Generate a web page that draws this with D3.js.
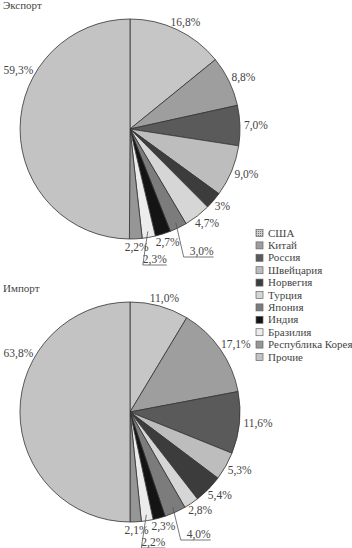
<!DOCTYPE html>
<html>
<head>
<meta charset="utf-8">
<script src="https://cdn.jsdelivr.net/npm/d3@7"></script>
<style>
  body { margin: 0; background: #fff; }
  svg { display: block; }
  text { font-family: "Liberation Serif", "DejaVu Serif", serif; fill: #444; }
</style>
</head>
<body>
<svg id="chart" width="352" height="548"></svg>
<script>
// data
var countries = ['США', 'Китай', 'Россия', 'Швейцария', 'Норвегия', 'Турция', 'Япония', 'Индия', 'Бразилия', 'Республика Корея', 'Прочие'];
var exportValues = [16.8, 8.8, 7.0, 9.0, 3, 4.7, 3.0, 2.7, 2.3, 2.2, 59.3];
var exportLabels = ['16,8%', '8,8%', '7,0%', '9,0%', '3%', '4,7%', '3,0%', '2,7%', '2,3%', '2,2%', '59,3%'];
var importValues = [11.0, 17.1, 11.6, 5.3, 5.4, 2.8, 4.0, 2.3, 2.2, 2.1, 63.8];
var importLabels = ['11,0%', '17,1%', '11,6%', '5,3%', '5,4%', '2,8%', '4,0%', '2,3%', '2,2%', '2,1%', '63,8%'];

var colors = ['#c6c6c6', '#9e9e9e', '#5a5a5a', '#bdbdbd', '#3c3c3c', '#d6d6d6', '#7c7c7c', '#141414', '#ececec', '#969696', '#c3c3c3'];

var svg = d3.select('#chart');
var R = 110;
var FontSize = 11.5;
// slices whose labels hang below the pie on a leader line
var leaders = {6: {dx: 8, dy: 18, side: 'right'}, 8: {dx: -5, dy: 26, side: 'left'}};
var othersAngle = 300 * Math.PI / 180;

function drawPie(title, values, labels, cx, cy, titleY) {
    svg.append('text')
        .attr('x', 3)
        .attr('y', titleY)
        .attr('font-size', 11)
        .text(title);

    var pie = d3.pie().sort(null).value(function(d) { return d; });
    var arcs = pie(values);
    var arc = d3.arc().innerRadius(0).outerRadius(R);

    var g = svg.append('g').attr('transform', 'translate(' + cx + ',' + cy + ')');
    g.selectAll('path')
        .data(arcs)
        .enter()
        .append('path')
        .attr('d', arc)
        .attr('fill', function(d, i) { return colors[i]; })
        .attr('stroke', '#333')
        .attr('stroke-width', 0.8);

    arcs.forEach(function(d, i) {
        var a = (d.startAngle + d.endAngle) / 2;
        if (i === values.length - 1) a = othersAngle;
        var s = Math.sin(a), c = Math.cos(a);
        var t = g.append('text')
            .attr('font-size', FontSize)
            .text(labels[i]);
        var w = t.node().getComputedTextLength(), h = 9;
        if (leaders[i]) {
            var L = leaders[i];
            var x0 = s * (R - 6), y0 = -c * (R - 6);
            var x1 = x0 + L.dx, y1 = R + L.dy;
            var ux = L.side === 'right' ? x1 + w + 6 : x1 + w;
            g.append('polyline')
                .attr('points', [[x0, y0], [x1, y1], [ux, y1]].map(function(p) { return p.join(','); }).join(' '))
                .attr('fill', 'none')
                .attr('stroke', '#555')
                .attr('stroke-width', 0.8);
            t.attr('x', L.side === 'right' ? x1 + 6 : x1)
                .attr('y', y1 - 2);
            return;
        }
        var px = s * (R + 4), py = -c * (R + 4);
        var xc = px + s * w / 2, yc = py - c * h / 2;
        t.attr('x', xc)
            .attr('y', yc + 3.8)
            .attr('text-anchor', 'middle');
    });
}

drawPie('Экспорт', exportValues, exportLabels, 130, 129, 9);
drawPie('Импорт', importValues, importLabels, 130, 412, 292);

// legend
var defs = svg.append('defs');
var pat = defs.append('pattern')
    .attr('id', 'hatch')
    .attr('width', 2)
    .attr('height', 2)
    .attr('patternUnits', 'userSpaceOnUse');
pat.append('rect').attr('width', 2).attr('height', 2).attr('fill', '#d0d0d0');
pat.append('rect').attr('width', 1).attr('height', 1).attr('fill', '#777');

var legend = svg.append('g').attr('transform', 'translate(256,233)');
var rows = legend.selectAll('g')
    .data(countries)
    .enter()
    .append('g')
    .attr('transform', function(d, i) { return 'translate(0,' + (i * 12.4) + ')'; });
rows.append('rect')
    .attr('x', 0)
    .attr('y', -3.5)
    .attr('width', 7)
    .attr('height', 7)
    .attr('fill', function(d, i) { return i === 0 ? 'url(#hatch)' : colors[i]; })
    .attr('stroke', '#666')
    .attr('stroke-width', 0.7);
rows.append('text')
    .attr('x', 12)
    .attr('y', 3.5)
    .attr('font-size', 11)
    .text(function(d) { return d; });
</script>
</body>
</html>
